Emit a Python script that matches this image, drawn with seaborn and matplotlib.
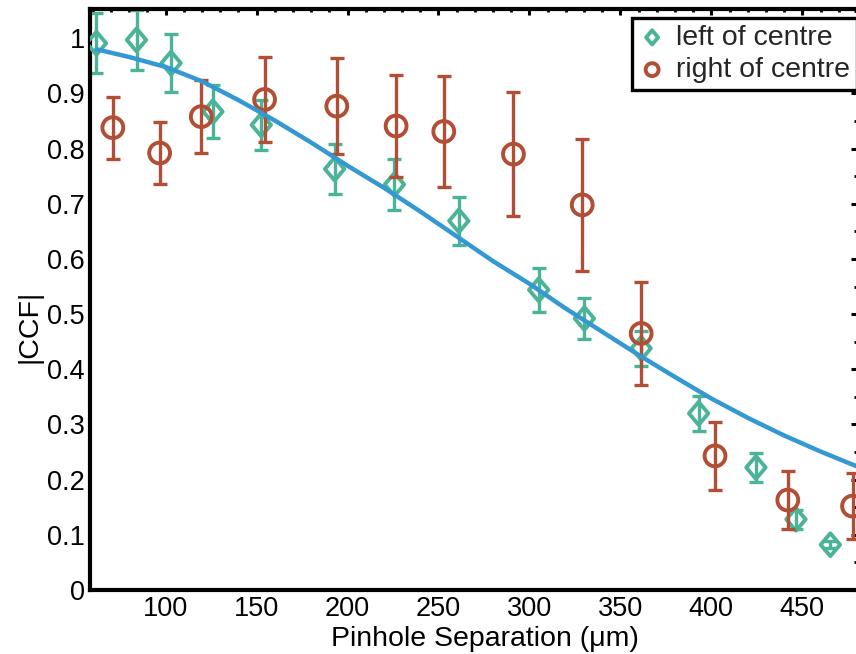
import matplotlib
matplotlib.use("Agg")
import matplotlib.pyplot as plt
from matplotlib.ticker import MultipleLocator
from matplotlib.path import Path
import pandas as pd
import seaborn as sns

# |CCF| versus pinhole separation (µm), pinhole pairs left of the beam centre
left_sep = [62, 84, 103, 126, 152.6, 192.9, 225.8, 261.2, 305.1, 330.2, 361.4, 393, 424.5, 446.5, 465.4]
left_ccf = [0.991, 0.997, 0.955, 0.867, 0.843, 0.763, 0.735, 0.669, 0.544, 0.492, 0.438, 0.320, 0.222, 0.128, 0.082]
left_err = [0.054, 0.055, 0.053, 0.048, 0.045, 0.045, 0.046, 0.044, 0.040, 0.038, 0.032, 0.031, 0.026, 0.017, 0.006]

# pinhole pairs right of the beam centre
right_sep = [71, 96.7, 119.6, 154.4, 194.1, 226.7, 252.9, 291.2, 329, 361.4, 402, 442, 477.6]
right_ccf = [0.838, 0.792, 0.858, 0.889, 0.877, 0.841, 0.831, 0.790, 0.698, 0.465, 0.243, 0.163, 0.152]
right_err = [0.056, 0.057, 0.066, 0.077, 0.087, 0.092, 0.101, 0.113, 0.120, 0.094, 0.062, 0.052, 0.060]

# fitted coherence curve
fit_sep = [62, 80, 100, 120, 140, 160, 180, 200, 220, 240, 260, 280,
           300, 320, 340, 360, 380, 400, 420, 440, 460, 480]
fit_ccf = [0.980, 0.966, 0.948, 0.922, 0.888, 0.851, 0.811, 0.769, 0.729, 0.686, 0.641, 0.596,
           0.555, 0.510, 0.468, 0.426, 0.386, 0.347, 0.312, 0.280, 0.251, 0.224]

series_labels = ["left of centre", "right of centre"]
x_label = "Pinhole Separation (\u03bcm)"
y_label = "|CCF|"

TEAL = "#4BB498"
RUST = "#B24E35"
BLUE = "#3498D3"

sns.set_theme(style="white")
plt.rcParams["font.family"] = ["Liberation Sans", "DejaVu Sans"]

left_df = pd.DataFrame({"sep": left_sep, "ccf": left_ccf, "err": left_err})
right_df = pd.DataFrame({"sep": right_sep, "ccf": right_ccf, "err": right_err})
fit_df = pd.DataFrame({"sep": fit_sep, "ccf": fit_ccf})

fig = plt.figure(figsize=(8.56, 6.54), dpi=100)
ax = fig.add_axes([0.1057, 0.0979, 0.896, 0.8883])

# slightly narrow open diamond
diamond = Path([(-0.85, 0.0), (0.0, 1.0), (0.85, 0.0), (0.0, -1.0), (-0.85, 0.0)],
               [Path.MOVETO, Path.LINETO, Path.LINETO, Path.LINETO, Path.CLOSEPOLY])

bar_kw = dict(fmt="none", elinewidth=2.4, capsize=4.8, capthick=2.4)

ax.errorbar(left_df["sep"], left_df["ccf"], yerr=left_df["err"], ecolor=TEAL, zorder=2, **bar_kw)
sns.scatterplot(data=left_df, x="sep", y="ccf", ax=ax, marker=diamond, s=270,
                color=TEAL, facecolors="none", edgecolor=TEAL, linewidth=2.8,
                label=series_labels[0], zorder=3)

ax.errorbar(right_df["sep"], right_df["ccf"], yerr=right_df["err"], ecolor=RUST, zorder=4, **bar_kw)
sns.scatterplot(data=right_df, x="sep", y="ccf", ax=ax, marker="o", s=225,
                color=RUST, facecolors="none", edgecolor=RUST, linewidth=2.8,
                label=series_labels[1], zorder=5)

sns.lineplot(data=fit_df, x="sep", y="ccf", ax=ax, color=BLUE, linewidth=3.2,
             zorder=6, legend=False)

ax.set_xlim(58.7, 480.3)
ax.set_ylim(0, 1.053)
ax.xaxis.set_minor_locator(MultipleLocator(10))
ax.yaxis.set_minor_locator(MultipleLocator(0.05))
ax.set_xticks([100, 150, 200, 250, 300, 350, 400, 450])
ax.set_yticks([0, 0.1, 0.2, 0.3, 0.4, 0.5, 0.6, 0.7, 0.8, 0.9, 1.0])
ax.set_yticklabels(["0", "0.1", "0.2", "0.3", "0.4", "0.5", "0.6", "0.7", "0.8", "0.9", "1"])

ax.tick_params(which="both", direction="in", top=True, right=True, color="black",
               labelsize=19.5, labelcolor="black")
ax.tick_params(which="major", length=4, width=2.2, pad=4)
ax.tick_params(which="minor", length=2, width=2.0)
for sp in ax.spines.values():
    sp.set_visible(True)
    sp.set_color("black")
    sp.set_linewidth(3)

ax.set_xlabel(x_label, fontsize=20.5, color="black")
ax.set_ylabel(y_label, fontsize=20.5, color="black")
ax.xaxis.set_label_coords(0.514, -0.062)
ax.yaxis.set_label_coords(-0.063, 0.453)

leg = ax.legend(loc="upper right", bbox_to_anchor=(1.0, 0.985), borderaxespad=0,
                fontsize=20.5, frameon=True, fancybox=False, markerscale=0.62,
                handlelength=0.9, handletextpad=0.4, borderpad=0.25, labelspacing=0.22)
frame = leg.get_frame()
frame.set_edgecolor("black")
frame.set_linewidth(2.4)
frame.set_alpha(1)

fig.savefig("out.png", dpi=100)
